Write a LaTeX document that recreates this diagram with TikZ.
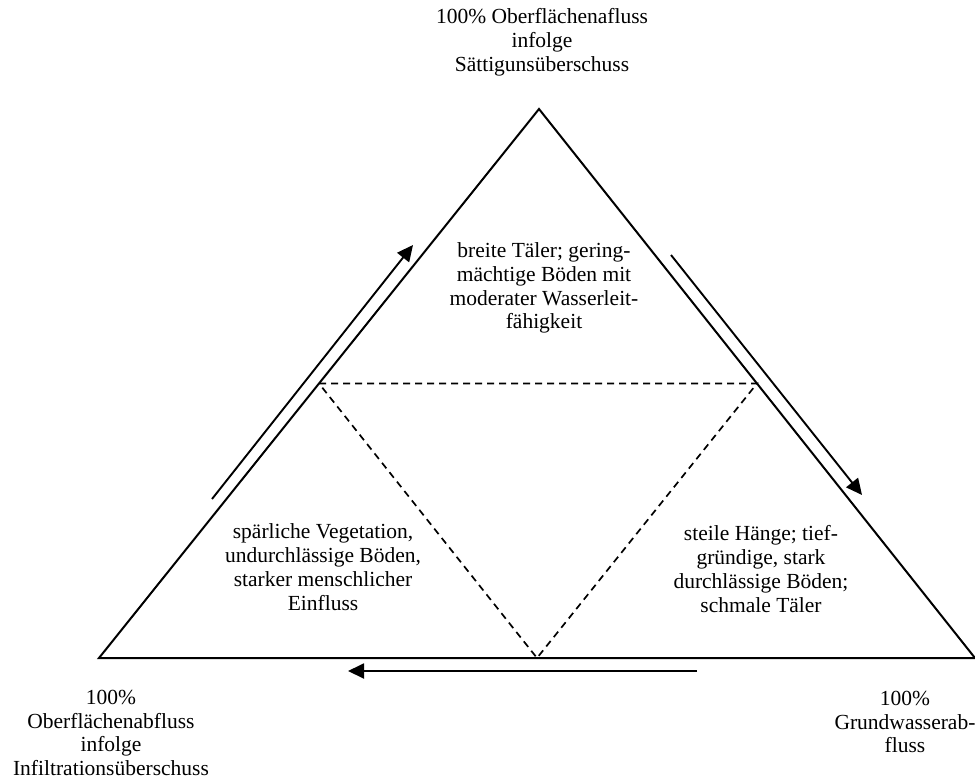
\documentclass[tikz,border=0pt]{standalone}
\usepackage{fontspec}
\setmainfont{Liberation Serif}
\usetikzlibrary{arrows.meta,calc,positioning}

\tikzset{
  txt/.style={align=center, inner sep=0pt, font=\fontsize{21.5}{23.8}\selectfont},
  edge/.style={line width=2pt},
  split/.style={line width=1.7pt, dash pattern=on 7pt off 5pt},
  flow/.style={line width=1.9pt, -{Triangle[length=16pt,width=15pt]}}
}

\begin{document}
\begin{tikzpicture}[x=1pt,y=-1pt]
  \useasboundingbox (0,0) rectangle (975,780);

  % Corners
  \coordinate (top) at (539,109);
  \coordinate (left) at (99,658);
  \coordinate (right) at (975,658);

  % Triangle
  \draw[edge] (left) -- (top) -- (right) -- cycle;

  % Inner triangle
  \coordinate (mleft) at ($(left)!0.5!(top)$);
  \coordinate (mright) at ($(top)!0.5!(right)$);
  \coordinate (mbottom) at ($(left)!0.5!(right)$);
  \draw[split] (mleft) -- (mright) -- (mbottom) -- cycle;

  % Flow arrows
  \coordinate (up0) at (212,499);
  \coordinate (up1) at (413,245);
  \coordinate (down0) at (671,255);
  \coordinate (down1) at (862,495);
  \coordinate (back0) at (697,671);
  \coordinate (back1) at (348,671);
  \draw[flow] (up0) -- (up1);
  \draw[flow] (down0) -- (down1);
  \draw[flow] (back0) -- (back1);

  % Corner labels
  \node[txt] (lsat) at (542,42) {100\% Oberflächenafluss\\infolge\\Sättigunsüberschuss};
  \node[txt] (linf) at (111,733) {100\%\\Oberflächenabfluss\\infolge\\Infiltrationsüberschuss};
  \node[txt] (lgw) at (905,722) {100\%\\Grundwasserab-\\fluss};

  % Field labels
  \node[txt] (fsat) at (544,288) {breite Täler; gering-\\mächtige Böden mit\\moderater Wasserleit-\\fähigkeit};
  \node[txt] (finf) at (323,567) {spärliche Vegetation,\\undurchlässige Böden,\\starker menschlicher\\Einfluss};
  \node[txt] (fgw) at (761,569) {steile Hänge; tief-\\gründige, stark\\durchlässige Böden;\\schmale Täler};
\end{tikzpicture}
\end{document}
